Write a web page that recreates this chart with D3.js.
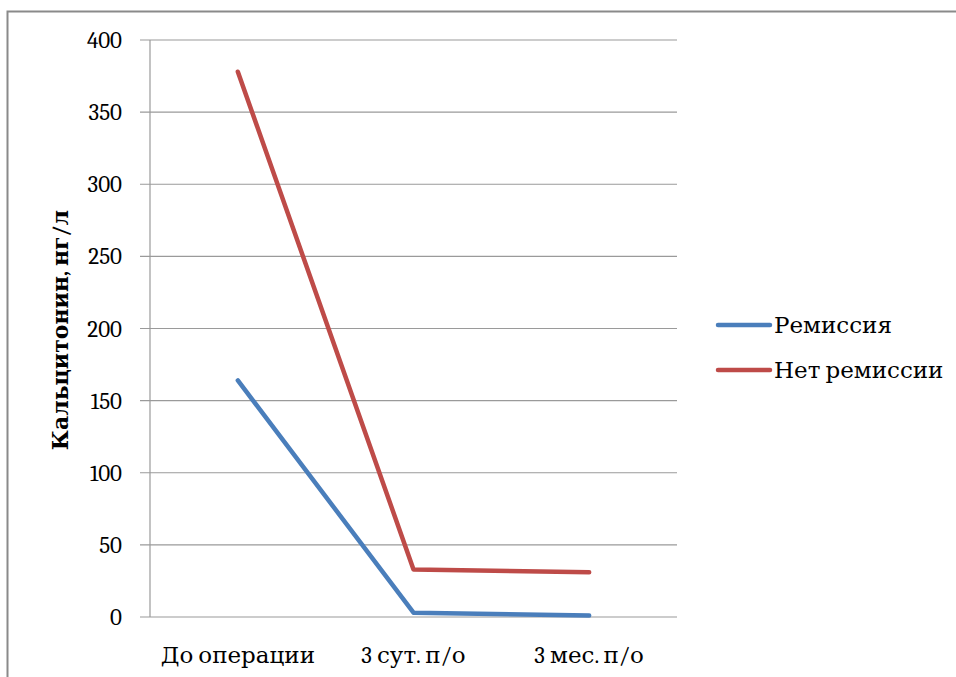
<!DOCTYPE html>
<html><head><meta charset="utf-8">
<script src="https://cdn.jsdelivr.net/npm/d3@7/dist/d3.min.js"></script>
<style>body{margin:0;background:#fff}svg{display:block}</style>
</head><body>
<svg id="c" width="956" height="677"></svg>
<script>
const categories = ["До операции", "3 сут. п/о", "3 мес. п/о"];
const remission = [164, 3, 1];
const noRemission = [378, 33, 31];
const seriesNames = ["Ремиссия", "Нет ремиссии"];
const yTicks = [0, 50, 100, 150, 200, 250, 300, 350, 400];
const yTitle = "Кальцитонин, нг/л";

const svg = d3.select("#c");
const font = "Cambria, 'DejaVu Serif', 'Liberation Serif', serif";
const M = {left: 150, right: 677, top: 40, bottom: 617};

svg.append("path").attr("d", "M7.5,677 L7.5,11.5 L956,11.5")
  .attr("fill", "none").attr("stroke", "#8a8a8a").attr("stroke-width", 2);

const x = d3.scaleBand().domain(categories).range([M.left, M.right]);
const y = d3.scaleLinear().domain([0, 400]).range([M.bottom, M.top]);

svg.append("g").selectAll("line").data(yTicks).join("line")
  .attr("x1", M.left - 10).attr("x2", M.right)
  .attr("y1", d => y(d)).attr("y2", d => y(d))
  .attr("stroke", "#9a9a9a").attr("stroke-width", 1.2);

svg.append("line").attr("x1", M.left).attr("x2", M.left)
  .attr("y1", M.top).attr("y2", M.bottom).attr("stroke", "#9a9a9a").attr("stroke-width", 1.2);

svg.append("g").selectAll("text").data(yTicks).join("text")
  .attr("x", 122).attr("y", d => y(d)).attr("dy", "0.35em")
  .attr("text-anchor", "end").attr("font-family", font).attr("font-size", 23)
  .attr("fill", "#000").text(d => d);

svg.append("g").selectAll("text").data(categories).join("text")
  .attr("x", d => x(d) + x.bandwidth() / 2).attr("y", 663)
  .attr("text-anchor", "middle").attr("font-family", font).attr("font-size", 23)
  .attr("fill", "#000").text(d => d);

svg.append("text").attr("transform", "translate(68,330) rotate(-90)")
  .attr("text-anchor", "middle").attr("font-family", font).attr("font-size", 22)
  .attr("font-weight", "bold").attr("fill", "#000").text(yTitle);

const colors = ["#4a7ebb", "#be4b48"];
const line = d3.line().x((d, i) => x(categories[i]) + x.bandwidth() / 2).y(d => y(d));
[remission, noRemission].forEach((s, k) => {
  svg.append("path").datum(s).attr("d", line).attr("fill", "none")
    .attr("stroke", colors[k]).attr("stroke-width", 4.5)
    .attr("stroke-linejoin", "round").attr("stroke-linecap", "round");
});

const ly = [325, 370];
seriesNames.forEach((n, k) => {
  svg.append("line").attr("x1", 718).attr("x2", 770).attr("y1", ly[k]).attr("y2", ly[k])
    .attr("stroke", colors[k]).attr("stroke-width", 4.5).attr("stroke-linecap", "round");
  svg.append("text").attr("x", 774).attr("y", ly[k]).attr("dy", "0.35em")
    .attr("font-family", font).attr("font-size", 23).attr("fill", "#000").text(n);
});
</script>
</body></html>
